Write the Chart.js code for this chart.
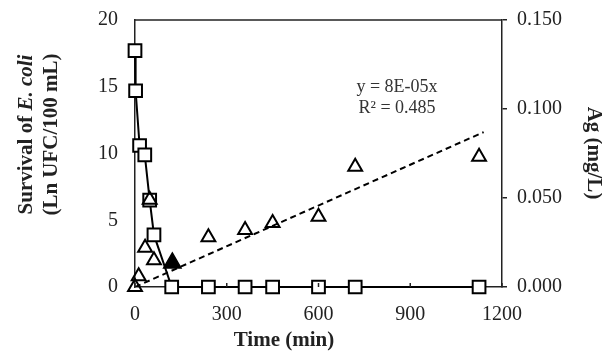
<!DOCTYPE html>
<html>
<head>
<meta charset="utf-8">
<script src="https://cdn.jsdelivr.net/npm/chart.js@4/dist/chart.umd.min.js"></script>
<style>
html,body{margin:0;padding:0;background:#fff;}
canvas{display:block;}
</style>
</head>
<body>
<canvas id="c" width="602" height="358"></canvas>
<script>
// ---- data ----
const ecoliTime = [0, 2, 15, 32, 48, 62, 120, 240, 360, 450, 600, 720, 1125];
const ecoliLn   = [17.7, 14.7, 10.6, 9.9, 6.5, 3.9, 0, 0, 0, 0, 0, 0, 0];
const agTime    = [0, 12, 33, 48, 62, 240, 360, 450, 600, 720, 1125];
const agConc    = [0, 0.006, 0.022, 0.049, 0.015, 0.028, 0.032, 0.036, 0.0395, 0.0676, 0.0732];
const agFilledTime = [122];
const agFilledConc = [0.0135];
const trendTime = [0, 1140];
const trendConc = [0, 0.087];
const xTicks = [0, 300, 600, 900, 1200];
const trendLabel = ['y = 8E-05x', 'R\u00b2 = 0.485'];

const SERIF = '"Liberation Serif", "Times New Roman", serif';
const INK = '#222';

const pts = (xs, ys) => xs.map((x, i) => ({x: x, y: ys[i]}));

const decor = {
  id: 'decor',
  afterDraw(chart) {
    const ctx = chart.ctx, a = chart.chartArea;
    const xs = chart.scales.x;
    ctx.save();
    ctx.strokeStyle = INK; ctx.lineWidth = 1.5;
    ctx.beginPath();
    ctx.moveTo(a.left, a.top); ctx.lineTo(a.right, a.top); ctx.stroke();
    xTicks.forEach(v => {
      const px = xs.getPixelForValue(v);
      ctx.beginPath(); ctx.moveTo(px, a.bottom); ctx.lineTo(px, a.bottom - 4); ctx.stroke();
    });
    ctx.fillStyle = '#333';
    ctx.font = '18px ' + SERIF;
    ctx.textAlign = 'center'; ctx.textBaseline = 'middle';
    ctx.fillText(trendLabel[0], 397, 87);
    ctx.fillText(trendLabel[1], 397, 108);
    ctx.fillStyle = INK;
    ctx.font = 'bold 21px ' + SERIF;
    ctx.fillText('Time (min)', 284, 341);
    ctx.save();
    ctx.translate(593, 153); ctx.rotate(Math.PI / 2);
    ctx.fillText('Ag (mg/L)', 0, 0);
    ctx.restore();
    ctx.save();
    ctx.translate(27, 134.5); ctx.rotate(-Math.PI / 2);
    ctx.textAlign = 'left';
    const p1 = 'Survival of ', p2 = 'E. coli';
    ctx.font = 'bold 21px ' + SERIF; const w1 = ctx.measureText(p1).width;
    ctx.font = 'italic bold 21px ' + SERIF; const w2 = ctx.measureText(p2).width;
    let sx = -(w1 + w2) / 2;
    ctx.font = 'bold 21px ' + SERIF; ctx.fillText(p1, sx, 0);
    ctx.font = 'italic bold 21px ' + SERIF; ctx.fillText(p2, sx + w1, 0);
    ctx.restore();
    ctx.save();
    ctx.translate(52, 134.5); ctx.rotate(-Math.PI / 2);
    ctx.font = 'bold 21px ' + SERIF; ctx.textAlign = 'center';
    ctx.fillText('(Ln UFC/100 mL)', 0, 0);
    ctx.restore();
    ctx.restore();
  }
};

const noPad = s => { s.paddingTop = 0; s.paddingBottom = 0; s.paddingLeft = 0; s.paddingRight = 0; };

new Chart(document.getElementById('c'), {
  type: 'scatter',
  data: {
    datasets: [
      {
        label: 'Ag filled',
        data: pts(agFilledTime, agFilledConc),
        yAxisID: 'y2', clip: false,
        pointStyle: 'triangle', pointRadius: 10,
        pointBackgroundColor: '#000', pointBorderColor: '#000', pointBorderWidth: 1.5,
        showLine: false, order: 0
      },
      {
        label: 'Ag',
        data: pts(agTime, agConc),
        yAxisID: 'y2', clip: false,
        pointStyle: 'triangle', pointRadius: 8,
        pointBackgroundColor: 'rgba(255,255,255,0)', pointBorderColor: '#000', pointBorderWidth: 2,
        showLine: false, order: 1
      },
      {
        label: 'E. coli',
        data: pts(ecoliTime, ecoliLn),
        yAxisID: 'y', clip: false,
        showLine: true, borderColor: '#000', borderWidth: 2,
        pointStyle: 'rect', pointRadius: 9,
        pointBackgroundColor: '#fff', pointBorderColor: '#000', pointBorderWidth: 2,
        order: 2
      },
      {
        label: 'trend',
        data: pts(trendTime, trendConc),
        yAxisID: 'y2',
        showLine: true, borderColor: '#000', borderWidth: 2, borderDash: [6, 4],
        pointRadius: 0, order: 3
      }
    ]
  },
  options: {
    responsive: false,
    animation: false,
    devicePixelRatio: 1,
    layout: { padding: { top: 20, right: 0, left: 0, bottom: 0 } },
    plugins: { legend: { display: false }, tooltip: { enabled: false } },
    scales: {
      x: {
        type: 'linear', position: 'bottom', min: 0, max: 1200,
        afterBuildTicks: s => { s.ticks = xTicks.map(v => ({value: v})); },
        ticks: { font: { family: SERIF, size: 20 }, color: INK, padding: 16, maxRotation: 0,
                 callback: v => String(v) },
        grid: { display: false, drawTicks: false },
        border: { display: true, color: INK, width: 1.5 },
        afterFit: s => { s.height = 71; noPad(s); }
      },
      y: {
        type: 'linear', position: 'left', min: 0, max: 20,
        ticks: { stepSize: 5, font: { family: SERIF, size: 20 }, color: INK, padding: 17,
                 callback: v => String(v) },
        grid: { display: false, drawTicks: false },
        border: { display: true, color: INK, width: 1.5 },
        afterFit: s => { s.width = 135; noPad(s); }
      },
      y2: {
        type: 'linear', position: 'right', min: 0, max: 0.15,
        ticks: { stepSize: 0.05, font: { family: SERIF, size: 20 }, color: INK, padding: 10,
                 callback: v => Number(v).toFixed(3) },
        grid: { display: true, drawOnChartArea: false, drawTicks: true, tickLength: 5, color: INK, lineWidth: 1.5 },
        border: { display: true, color: INK, width: 1.5 },
        afterFit: s => { s.width = 100; noPad(s); }
      }
    }
  },
  plugins: [decor]
});
</script>
</body>
</html>
